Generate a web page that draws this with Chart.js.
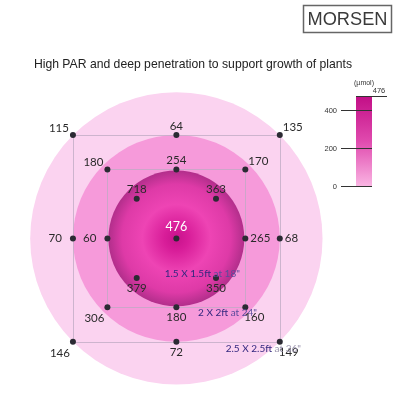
<!DOCTYPE html>
<html>
<head>
<meta charset="utf-8">
<script src="https://cdn.jsdelivr.net/npm/chart.js@4.4.1/dist/chart.umd.min.js"></script>
<style>
  html,body{margin:0;padding:0;background:#fff;}
  canvas{display:block;}
</style>
</head>
<body>
<canvas id="parChart" width="400" height="400"></canvas>
<script>
/* ── DATA ── */
// PAR readings (µmol) and where they were taken, in grid steps from the centre
const parValues = [115,64,135,70,68,146,72,149, 180,254,170,60,265,306,180,160, 718,363,379,350, 476];
const gridX     = [-3,0,3,-3,3,-3,0,3, -2,0,2,-2,2,-2,0,2, -1.15,1.15,-1.15,1.15, 0];
const gridY     = [3,3,3,0,0,-3,-3,-3, 2,2,2,0,0,-2,-2,-2, 1.15,1.15,-1.15,-1.15, 0];
// coverage zones, outer to inner
const zoneRadius  = [4.24, 3, 1.97];
const zoneSize    = ['2.5 X 2.5ft', '2 X 2ft', '1.5 X 1.5ft'];
const zoneHeight  = ['at 36"', 'at 24"', 'at 18"'];
const zoneTextX   = [1.43, 0.63, -0.34];
const zoneTextY   = [-3.2, -2.17, -1.03];
const squareHalf  = [3, 2];
// colour bar
const colorTicks = [0, 200, 400];
const colorMax   = 476;

/* ── LABEL PLACEMENT (style) ── */
const labelPos = ['tl','t','tr','l','r','bl','b','br', 'tl','t','tr','l','r','bl','b','br', 't','t','b','b', 't'];
const labelOff = {
  tl:[-4,-7,'right'], t:[0,-9,'center'], tr:[3,-8,'left'],
  l:[-11,0,'right'], r:[5,0,'left'],
  bl:[-13,11,'center'], b:[0,10,'center'], br:[9,10,'center']
};

const NUM_FONT = '"Lato", "Noto Sans", sans-serif';
const SANS = '"Liberation Sans", Arial, sans-serif';

const zonePlugin = {
  id:'zones',
  beforeDatasetsDraw(chart){
    const {ctx, scales:{x, y}} = chart;
    const cx = x.getPixelForValue(0), cy = y.getPixelForValue(0);
    const unit = x.getPixelForValue(1) - cx;
    const fills = ['#fbd3f0', '#f69ada', null];
    ctx.save();
    zoneRadius.forEach((r, i)=>{
      const rp = r*unit;
      ctx.beginPath();
      ctx.arc(cx, cy, rp, 0, Math.PI*2);
      if(fills[i]) ctx.fillStyle = fills[i];
      else {
        const g = ctx.createRadialGradient(cx, cy, 0, cx, cy, rp);
        g.addColorStop(0, '#c8128c');
        g.addColorStop(0.18, '#d81d99');
        g.addColorStop(0.5, '#ee44b4');
        g.addColorStop(0.8, '#de3aa7');
        g.addColorStop(1, '#b22e8b');
        ctx.fillStyle = g;
      }
      ctx.fill();
    });
    // measurement grid squares
    ctx.strokeStyle = 'rgba(190,170,195,0.75)';
    ctx.lineWidth = 1;
    squareHalf.forEach(h=>{
      const x0 = x.getPixelForValue(-h), x1 = x.getPixelForValue(h);
      const y0 = y.getPixelForValue(h), y1 = y.getPixelForValue(-h);
      ctx.strokeRect(Math.round(x0)+0.5, Math.round(y0)+0.5, Math.round(x1-x0), Math.round(y1-y0));
    });
    ctx.restore();
  },
  afterDatasetsDraw(chart){
    const {ctx, scales:{x, y, yc}} = chart;
    const pts = chart.getDatasetMeta(0).data;
    ctx.save();
    ctx.textBaseline = 'middle';
    // value labels
    pts.forEach((p, i)=>{
      const o = labelOff[labelPos[i]];
      const centre = gridX[i]===0 && gridY[i]===0;
      ctx.font = (centre ? '12.5px ' : '11.5px ') + NUM_FONT;
      ctx.fillStyle = centre ? '#ffffff' : '#2a2a2a';
      ctx.textAlign = o[2];
      ctx.fillText(String(parValues[i]), p.x + o[0], p.y + o[1] + (centre ? -2 : 0));
    });
    // zone captions
    ctx.textAlign = 'left';
    zoneSize.forEach((s, i)=>{
      const tx = x.getPixelForValue(zoneTextX[i]), ty = y.getPixelForValue(zoneTextY[i]);
      ctx.font = '10px ' + NUM_FONT;
      ctx.fillStyle = '#33277f';
      ctx.fillText(s, tx, ty);
      const w = ctx.measureText(s + ' ').width;
      ctx.fillStyle = i===0 ? '#9a93ad' : '#5b4b9c';
      ctx.fillText(zoneHeight[i], tx + w, ty);
    });

    // title
    ctx.textAlign = 'center';
    ctx.font = '12.2px ' + SANS;
    ctx.fillStyle = '#222';
    ctx.fillText('High PAR and deep penetration to support growth of plants', 193, 65);

    // brand box
    ctx.strokeStyle = '#666';
    ctx.lineWidth = 1.5;
    ctx.strokeRect(303.5, 5.5, 88, 27);
    ctx.font = '19px ' + SANS;
    ctx.fillStyle = '#3a3a3a';
    ctx.fillText('MORSEN', 347.5, 20, 80);

    // colour bar
    const bx0 = 356, bx1 = 372;
    const top = yc.getPixelForValue(colorMax), bot = yc.getPixelForValue(0);
    const g = ctx.createLinearGradient(0, top, 0, bot);
    g.addColorStop(0, '#c20e86');
    g.addColorStop(0.5, '#e04aae');
    g.addColorStop(1, '#fab5e3');
    ctx.fillStyle = g;
    ctx.fillRect(bx0, top, bx1-bx0, bot-top);
    ctx.strokeStyle = '#333';
    ctx.lineWidth = 1;
    ctx.font = '7.5px ' + SANS;
    ctx.fillStyle = '#333';
    ctx.textAlign = 'right';
    colorTicks.forEach(v=>{
      const ty = Math.round(yc.getPixelForValue(v)) + 0.5;
      ctx.beginPath(); ctx.moveTo(341, ty); ctx.lineTo(bx1, ty); ctx.stroke();
      ctx.fillText(String(v), 337, ty);
    });
    const mt = Math.round(top) + 0.5;
    ctx.beginPath(); ctx.moveTo(bx0, mt); ctx.lineTo(387, mt); ctx.stroke();
    ctx.textAlign = 'center';
    ctx.fillText(String(colorMax), 379, mt - 6);
    ctx.font = '7px ' + SANS;
    ctx.fillText('(\u00b5mol)', 364, mt - 13);
    ctx.restore();
  }
};

new Chart(document.getElementById('parChart'), {
  type:'scatter',
  data:{
    datasets:[{
      data: parValues.map((v, i)=>({x:gridX[i], y:gridY[i]})),
      pointRadius:3, pointHoverRadius:3,
      pointBackgroundColor:'#2b2a33', pointBorderWidth:0
    }]
  },
  options:{
    responsive:false, animation:false,
    layout:{padding:0},
    plugins:{legend:{display:false}, tooltip:{enabled:false}},
    scales:{
      x:{type:'linear', display:false, min:-176/35, max:224/35},
      y:{type:'linear', display:false, min:-161/35, max:239/35},
      yc:{type:'linear', display:false, min:-1113, max:967}
    }
  },
  plugins:[zonePlugin]
});
</script>
</body>
</html>
